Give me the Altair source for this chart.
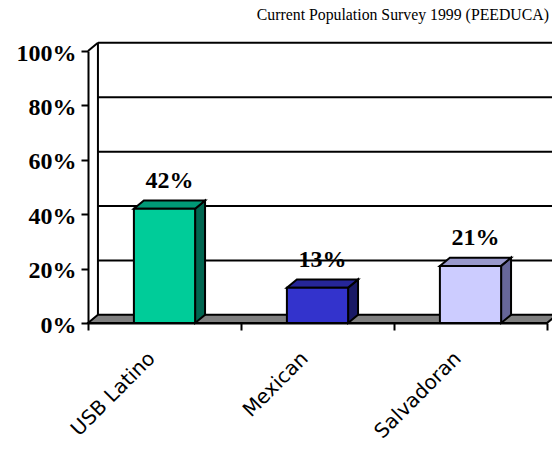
import json

import altair as alt
import pandas as pd

# Share of each group (percent)
categories = ["USB Latino", "Mexican", "Salvadoran"]
shares = [42, 13, 21]

# face colours of each 3-D bar
front_colors = ["#00CC99", "#3333CC", "#CCCCFF"]
top_colors = ["#009977", "#262699", "#9999CC"]
side_colors = ["#006650", "#1A1A66", "#666699"]

y_ticks = [0, 20, 40, 60, 80, 100]
wall_lines = [20, 40, 60, 80, 100]
source_note = "Current Population Survey 1999 (PEEDUCA)"

# pseudo-3D geometry in data units (x: category slots, y: percent)
N = len(categories)
HALF_W = 0.2   # half width of a bar's front face
DX = 0.065     # depth shift to the right
DY = 3.0       # depth shift upward

centers = [i + 0.5 for i in range(N)]

bars = pd.DataFrame({
    "cat": categories,
    "value": shares,
    "base": [0] * N,
    "left": [c - HALF_W for c in centers],
    "right": [c + HALF_W for c in centers],
    "label_x": [c + DX / 2 for c in centers],
    "label": [f"{v}%" for v in shares],
    "front": front_colors,
})

# top face (horizontal parallelogram) and side face (vertical parallelogram) per bar
top_rows = []
side_rows = []
for c, v, tc, sc, cat in zip(centers, shares, top_colors, side_colors, categories):
    top_rows.append({"cat": cat, "y": v, "x": c - HALF_W, "x2": c + HALF_W, "col": tc})
    top_rows.append({"cat": cat, "y": v + DY, "x": c - HALF_W + DX, "x2": c + HALF_W + DX, "col": tc})
    side_rows.append({"cat": cat, "x": c + HALF_W, "y": 0, "y2": v, "col": sc})
    side_rows.append({"cat": cat, "x": c + HALF_W + DX, "y": DY, "y2": v + DY, "col": sc})
tops = pd.DataFrame(top_rows)
sides = pd.DataFrame(side_rows)

floor = pd.DataFrame({"y": [0, DY], "x": [0, DX], "x2": [N, N + DX]})
walls = pd.DataFrame({"y": [g + DY for g in wall_lines], "x": [DX] * len(wall_lines),
                      "x2": [N + DX] * len(wall_lines)})
left_wall = pd.DataFrame({"x": [DX], "y": [DY], "y2": [100 + DY]})
corner = pd.DataFrame({"x": [0], "x2": [DX], "y": [100], "y2": [100 + DY]})

x_scale = alt.Scale(domain=[0, N], nice=False, zero=False)
y_scale = alt.Scale(domain=[0, 100], nice=False, zero=False)

label_expr = (
    "datum.value % 1 == 0 ? '' : " + json.dumps(categories) + "[floor(datum.value)]"
)

x_axis = alt.Axis(
    values=[0, 0.5, 1, 1.5, 2, 2.5, 3],
    labelExpr=label_expr,
    labelAngle=-45,
    labelAlign="right",
    labelBaseline="middle",
    labelFont="DejaVu Sans",
    labelFontSize=20,
    labelColor="black",
    labelPadding=25,
    labelOffset=-13,
    labelOverlap=False,
    labelBound=False,
    labelFlush=False,
    tickSize=7,
    tickWidth=2,
    tickColor="black",
    tickOpacity={"condition": {"test": "datum.value % 1 != 0", "value": 0}, "value": 1},
    domainColor="black",
    domainWidth=2,
    grid=False,
    title=None,
)

y_axis = alt.Axis(
    values=y_ticks,
    labelExpr="datum.value + '%'",
    labelFont="Liberation Serif",
    labelFontWeight="bold",
    labelFontSize=24,
    labelColor="black",
    labelPadding=5,
    labelOffset=2,
    tickSize=7,
    tickWidth=2,
    tickColor="black",
    domainColor="black",
    domainWidth=2,
    grid=False,
    title=None,
)

X = lambda f: alt.X(f, scale=x_scale, axis=x_axis)
Y = lambda f: alt.Y(f, scale=y_scale, axis=y_axis)

floor_layer = alt.Chart(floor).mark_area(
    orient="horizontal", fill="#808080", stroke="black", strokeWidth=2
).encode(y=Y("y:Q"), x=X("x:Q"), x2="x2:Q")

wall_layer = alt.Chart(walls).mark_rule(color="black", strokeWidth=2).encode(
    x=X("x:Q"), x2="x2:Q", y=Y("y:Q"),
)

left_wall_layer = alt.Chart(left_wall).mark_rule(color="black", strokeWidth=2).encode(
    x=X("x:Q"), y=Y("y:Q"), y2="y2:Q",
)

corner_layer = alt.Chart(corner).mark_rule(color="black", strokeWidth=2).encode(
    x=X("x:Q"), x2="x2:Q", y=Y("y:Q"), y2="y2:Q",
)

side_layer = alt.Chart(sides).mark_area(
    orient="vertical", stroke="black", strokeWidth=2, opacity=1
).encode(
    x=X("x:Q"), y=Y("y:Q"), y2="y2:Q",
    color=alt.Color("col:N", scale=None),
)

top_layer = alt.Chart(tops).mark_area(
    orient="horizontal", stroke="black", strokeWidth=2, opacity=1
).encode(
    y=Y("y:Q"), x=X("x:Q"), x2="x2:Q",
    color=alt.Color("col:N", scale=None),
)

front_layer = alt.Chart(bars).mark_bar(stroke="black", strokeWidth=2, opacity=1).encode(
    x=X("left:Q"), x2="right:Q", y=Y("value:Q"), y2="base:Q",
    color=alt.Color("front:N", scale=None),
)

text_layer = alt.Chart(bars).mark_text(
    font="Liberation Serif", fontWeight="bold", fontSize=24,
    dy=-21, baseline="alphabetic", align="center", color="black",
).encode(
    x=X("label_x:Q"), y=Y("value:Q"), text="label:N",
)

chart = alt.layer(
    floor_layer, wall_layer, left_wall_layer, corner_layer,
    side_layer, top_layer, front_layer, text_layer,
).properties(
    width=459,
    height=272,
    autosize=alt.AutoSizeParams(type="none"),
    padding={"left": 88, "top": 51, "right": 5, "bottom": 130},
    title=alt.TitleParams(
        source_note, anchor="end", orient="top", offset=5, dx=2,
        font="Liberation Serif", fontSize=15.8, fontWeight="normal",
        color="black", baseline="alphabetic", frame="group",
    ),
).configure_view(stroke=None)

chart.save("out.html", embed_options={"renderer": "svg", "actions": False})
